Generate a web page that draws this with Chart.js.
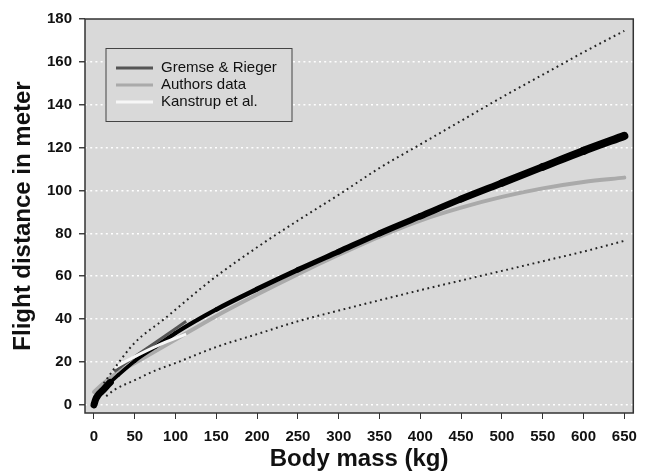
<!DOCTYPE html>
<html>
<head>
<meta charset="utf-8">
<script src="https://cdn.jsdelivr.net/npm/chart.js@4.4.1/dist/chart.umd.min.js"></script>
<style>
  html, body { margin: 0; padding: 0; background: #fff; }
  canvas { display: block; }
</style>
</head>
<body>
<canvas id="chart" width="646" height="475"></canvas>
<script>
// values (body mass in kg, flight distance in m)
var massMain = [0, 2, 5, 10, 20, 30, 50, 75, 100, 150, 200, 250, 300, 350, 400, 450, 500, 550, 600, 650];
var distMain = [0, 2.5, 4.5, 6.5, 10.5, 14, 20.5, 27, 33.5, 44.5, 54, 63, 71.5, 80, 88, 96, 103.5, 111, 118.5, 125.5];

var massAuthors = [0, 10, 25, 50, 75, 100, 150, 200, 250, 300, 350, 400, 450, 500, 550, 600, 650];
var distAuthors = [6, 9.5, 14, 19.5, 25, 30.5, 41.5, 51.5, 61, 70, 78.5, 86, 92, 97, 101, 104, 106];

var massGremse = [25, 50, 75, 113];
var distGremse = [15.5, 22.5, 29, 39];

var massKanstrup = [26, 50, 80, 113];
var distKanstrup = [17.5, 22.5, 28, 33];

var massUpper = [12, 25, 50, 86, 130, 150, 200, 250, 300, 350, 400, 450, 500, 550, 600, 650];
var distUpper = [10, 17, 29, 40, 54, 60, 73.5, 86, 98, 110.5, 121.5, 132.5, 143.5, 154, 164.5, 174.5];

var massLower = [15, 25, 50, 75, 100, 150, 200, 250, 300, 350, 400, 450, 500, 550, 600, 650];
var distLower = [4, 7, 11.5, 16, 19.5, 27, 33, 39, 44, 48.8, 53.5, 58, 62.5, 67, 71.5, 76.5];

var xTicks = [0, 50, 100, 150, 200, 250, 300, 350, 400, 450, 500, 550, 600, 650];
var yTicks = [0, 20, 40, 60, 80, 100, 120, 140, 160, 180];

var legendLabels = ['Gremse & Rieger', 'Authors data', 'Kanstrup et al.'];
var legendColors = ['#555555', '#aaaaaa', '#f7f7f7'];

var FONT = '"Liberation Sans", Arial, sans-serif';

function pts(xs, ys) {
    return xs.map(function (x, i) { return { x: x, y: ys[i] }; });
}

var plotBox = {
    id: 'plotBox',
    beforeDatasetsDraw: function (chart) {
        var a = chart.chartArea, ctx = chart.ctx;
        ctx.save();
        ctx.fillStyle = '#d9d9d9';
        ctx.fillRect(a.left, a.top, a.right - a.left, a.bottom - a.top);
        ctx.restore();
        // grid again, on top of the fill
        chart.scales.y.drawGrid(a);
        chart.scales.x.drawGrid(a);
    },
    afterDatasetsDraw: function (chart) {
        var a = chart.chartArea, ctx = chart.ctx;
        ctx.save();
        // legend box
        var lx = 106, ly = 48.5, lw = 186, lh = 73;
        ctx.fillStyle = '#d9d9d9';
        ctx.fillRect(lx, ly, lw, lh);
        ctx.strokeStyle = '#444';
        ctx.lineWidth = 1;
        ctx.strokeRect(lx, ly, lw, lh);
        ctx.font = '15px ' + FONT;
        ctx.textBaseline = 'middle';
        for (var i = 0; i < legendLabels.length; i++) {
            var yy = 68 + i * 17;
            ctx.strokeStyle = legendColors[i];
            ctx.lineWidth = 3;
            ctx.beginPath();
            ctx.moveTo(116, yy);
            ctx.lineTo(153, yy);
            ctx.stroke();
            ctx.fillStyle = '#111';
            ctx.fillText(legendLabels[i], 161, yy);
        }
        // box round the plot
        ctx.strokeStyle = '#333';
        ctx.lineWidth = 1.5;
        ctx.strokeRect(a.left, a.top, a.right - a.left, a.bottom - a.top);
        ctx.restore();
    }
};

var dotted = {
    borderColor: '#222',
    borderWidth: 2,
    borderDash: [1.8, 3.6],
    cubicInterpolationMode: 'monotone',
    pointRadius: 0,
    fill: false
};

var ctx = document.getElementById('chart').getContext('2d');
var chart = new Chart(ctx, {
    type: 'line',
    data: {
        datasets: [
            Object.assign({ label: 'upper', data: pts(massUpper, distUpper) }, dotted),
            Object.assign({ label: 'lower', data: pts(massLower, distLower) }, dotted),
            {
                label: 'Kanstrup et al.',
                data: pts(massKanstrup, distKanstrup),
                borderColor: '#f7f7f7',
                borderWidth: 3,
                cubicInterpolationMode: 'monotone',
                pointRadius: 0
            },
            {
                label: 'Gremse & Rieger',
                data: pts(massGremse, distGremse),
                borderColor: '#555555',
                borderWidth: 3,
                cubicInterpolationMode: 'monotone',
                pointRadius: 0
            },
            {
                label: 'Gremse & Rieger fit',
                data: pts(massMain, distMain),
                borderColor: '#000',
                borderCapStyle: 'round',
                borderJoinStyle: 'round',
                cubicInterpolationMode: 'monotone',
                pointRadius: 0,
                segment: {
                    borderWidth: function (c) {
                        var x = c.p0.parsed.x;
                        return x < 15 ? 7 : 3.5 + 5 * x / 650;
                    }
                }
            },
            {
                label: 'Authors data',
                data: pts(massAuthors, distAuthors),
                borderColor: '#aaaaaa',
                borderWidth: 4,
                borderCapStyle: 'round',
                cubicInterpolationMode: 'monotone',
                pointRadius: 0
            }
        ]
    },
    options: {
        responsive: false,
        animation: false,
        layout: { padding: { top: 19, right: 11, bottom: 0, left: 0 } },
        plugins: {
            legend: { display: false },
            tooltip: { enabled: false }
        },
        scales: {
            x: {
                type: 'linear',
                min: -11,
                max: 661,
                afterBuildTicks: function (axis) {
                    axis.ticks = xTicks.map(function (v) { return { value: v }; });
                },
                afterFit: function (scale) { scale.height = 62; },
                border: { display: false },
                grid: {
                    drawOnChartArea: false,
                    drawTicks: true,
                    tickLength: 6,
                    tickColor: '#333',
                    tickWidth: 1
                },
                ticks: {
                    autoSkip: false,
                    maxRotation: 0,
                    padding: 9,
                    color: '#111',
                    font: { family: FONT, size: 15, weight: 'bold' }
                },
                title: {
                    display: true,
                    text: 'Body mass (kg)',
                    color: '#111',
                    padding: { top: 0, bottom: 1.6 },
                    font: { family: FONT, size: 24, weight: 'bold' }
                }
            },
            y: {
                type: 'linear',
                min: -3.8,
                max: 180,
                afterBuildTicks: function (axis) {
                    axis.ticks = yTicks.map(function (v) { return { value: v }; });
                },
                afterFit: function (scale) { scale.width = 85; },
                border: { display: false, dash: [2, 3.2] },
                grid: {
                    color: function (c) { return c.tick && c.tick.value === 180 ? 'rgba(0,0,0,0)' : '#ffffff'; },
                    lineWidth: 1.5,
                    drawTicks: true,
                    tickLength: 6,
                    tickColor: '#333',
                    tickWidth: 1,
                    tickBorderDash: []
                },
                ticks: {
                    padding: 7,
                    color: '#111',
                    font: { family: FONT, size: 15, weight: 'bold' }
                },
                title: {
                    display: true,
                    text: 'Flight distance in meter',
                    color: '#111',
                    padding: { top: 8.6, bottom: 0 },
                    font: { family: FONT, size: 24, weight: 'bold' }
                }
            }
        }
    },
    plugins: [plotBox]
});
</script>
</body>
</html>
